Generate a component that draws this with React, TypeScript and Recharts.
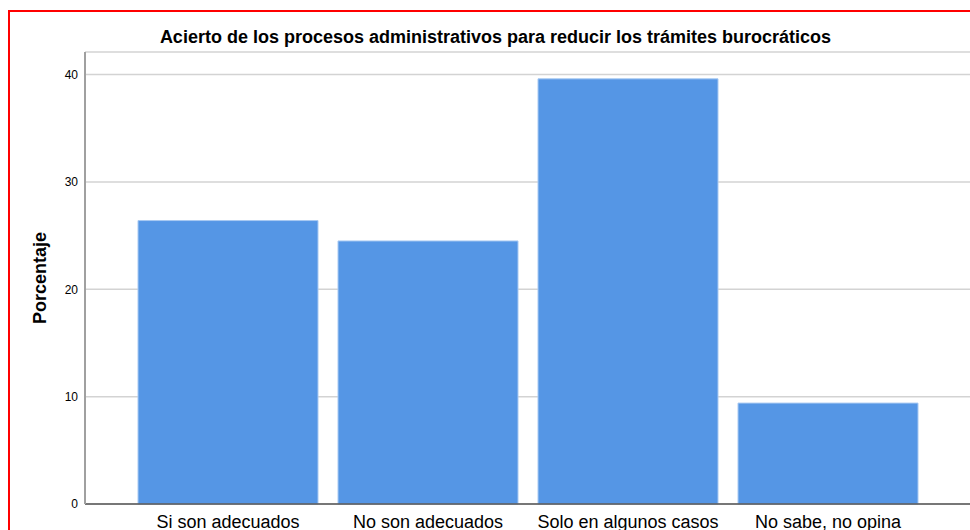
import React from 'react';
import { BarChart, Bar, XAxis, YAxis, CartesianGrid, Label } from 'recharts';

const categories = ['Si son adecuados', 'No son adecuados', 'Solo en algunos casos', 'No sabe, no opina'];
const percentages = [26.4, 24.5, 39.6, 9.4];
const yTicks = [0, 10, 20, 30, 40];

const TITLE = 'Acierto de los procesos administrativos para reducir los trámites burocráticos';
const FONT = '"Liberation Sans", Arial, sans-serif';

const App: React.FC = () => {
  const chartData = categories.map((name, i) => ({ name, value: percentages[i] }));

  return (
    <div style={{ position: 'absolute', left: 0, top: 0, width: 970, height: 530, overflow: 'hidden', background: '#fff', fontFamily: FONT }}>
      {/* red frame, only top and left edges visible in the crop */}
      <div style={{ position: 'absolute', left: 8, top: 10, width: 1000, height: 600, border: '2px solid #ff0000', boxSizing: 'border-box' }} />
      <div style={{ position: 'absolute', left: 0, top: 27, width: 991, textAlign: 'center', fontSize: 18, fontWeight: 700, color: '#000' }}>
        {TITLE}
      </div>
      <div style={{ position: 'absolute', left: 0, top: 0 }}>
        <BarChart
          width={970}
          height={530}
          data={chartData}
          margin={{ top: 52, right: 0, left: 0, bottom: 0 }}
          barCategoryGap="5%"
        >
          <CartesianGrid horizontal vertical={false} stroke="#d3d3d3" strokeWidth={1.5} />
          <XAxis
            dataKey="name"
            height={26}
            padding={{ left: 43, right: 42 }}
            axisLine={{ stroke: '#555555', strokeWidth: 1.5 }}
            tickLine={false}
            tickSize={6}
            tickMargin={5}
            interval={0}
            tick={{ fill: '#000', fontSize: 18, fontFamily: FONT }}
          />
          <YAxis
            width={85}
            domain={[0, 42.1]}
            ticks={yTicks}
            axisLine={{ stroke: '#a0a0a0', strokeWidth: 2 }}
            tickLine={false}
            tickSize={7}
            tickMargin={0}
            tick={{ fill: '#000', fontSize: 12, fontFamily: FONT }}
          >
            <Label
              value="Porcentaje"
              angle={-90}
              position="center"
              dx={-3}
              style={{ fontSize: 18, fontWeight: 700, fill: '#000', fontFamily: FONT }}
            />
          </YAxis>
          <Bar dataKey="value" fill="#5596e5" stroke="#a8c9f2" strokeWidth={1} isAnimationActive={false} />
        </BarChart>
      </div>
    </div>
  );
};

export default App;
